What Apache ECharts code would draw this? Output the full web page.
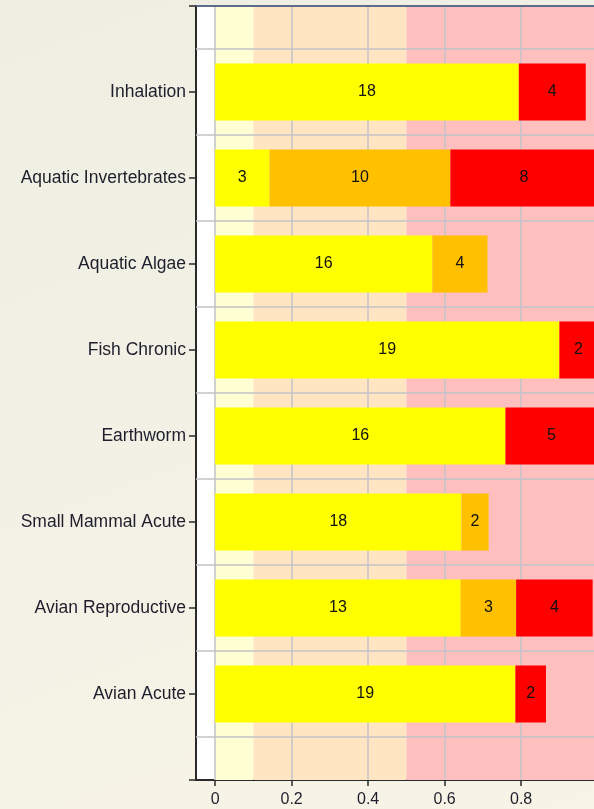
<!DOCTYPE html>
<html>
<head>
<meta charset="utf-8">
<script src="https://cdn.jsdelivr.net/npm/echarts@6/dist/echarts.min.js"></script>
<style>
  html, body { margin: 0; padding: 0; }
  body { width: 594px; height: 809px; background: linear-gradient(160deg, #eeeee2 0%, #f3f1e5 50%, #f7f3e7 100%); }
  #chart { width: 594px; height: 809px; }
</style>
</head>
<body>
<div id="chart"></div>
<script>
// Categories, bottom to top (padded with empty slots at both ends)
const categories = ['', 'Avian Acute', 'Avian Reproductive', 'Small Mammal Acute', 'Earthworm',
  'Fish Chronic', 'Aquatic Algae', 'Aquatic Invertebrates', 'Inhalation', ''];

// Bar segment lengths (fraction of axis), per category
const yellowShare = [null, 0.785, 0.642, 0.644, 0.759, 0.900, 0.568, 0.142, 0.794, null];
const orangeShare = [null, null, 0.145, 0.071, null, null, 0.144, 0.473, null, null];
const redShare    = [null, 0.080, 0.200, null, 0.241, 0.100, null, 0.385, 0.175, null];

// Counts written on the segments
const yellowCount = [null, 19, 13, 18, 16, 19, 16, 3, 18, null];
const orangeCount = [null, null, 3, 2, null, null, 4, 10, null, null];
const redCount    = [null, 2, 4, null, 5, 2, null, 8, 4, null];

// Axis ticks
const xTicks = [0, 0.2, 0.4, 0.6, 0.8, 1];
const rowBoundaries = [-0.5, 0.5, 1.5, 2.5, 3.5, 4.5, 5.5, 6.5, 7.5];

// Background zones
const zones = [
  { from: 0, to: 0.1, color: '#ffffd3' },
  { from: 0.1, to: 0.5, color: '#ffe5c1' },
  { from: 0.5, to: 1.05, color: '#ffbfbf' }
];

const FONT = "'Liberation Sans', Arial, sans-serif";
const TEXT = '#1e1e2c';

const chart = echarts.init(document.getElementById('chart'), null, { renderer: 'canvas' });

function barSeries(name, values, counts, color) {
  return {
    name: name,
    type: 'bar',
    stack: 'total',
    xAxisIndex: 0,
    yAxisIndex: 0,
    barWidth: 57,
    z: 5,
    itemStyle: { color: color },
    label: {
      show: true,
      position: 'inside',
      color: '#111',
      fontFamily: FONT,
      fontSize: 16,
      formatter: p => (counts[p.dataIndex] == null ? '' : String(counts[p.dataIndex]))
    },
    data: values
  };
}

const option = {
  backgroundColor: 'transparent',
  animation: false,
  grid: {
    left: 196, top: 6, width: 420.75, height: 774,
    containLabel: false, outerBoundsMode: 'none',
    show: true, backgroundColor: '#ffffff', borderWidth: 0
  },
  xAxis: [{
    type: 'value', min: -0.05, max: 1.05,
    axisLine: { show: true, onZero: false, lineStyle: { color: '#2a2a2a', width: 2 } },
    axisTick: { show: true, length: 6, customValues: xTicks, lineStyle: { color: '#2a2a2a', width: 1.5 } },
    axisLabel: { customValues: xTicks, margin: 12, color: TEXT, fontFamily: FONT, fontSize: 16,
      showMaxLabel: true, hideOverlap: false,
      formatter: v => String(Math.round(v * 10) / 10) },
    splitLine: { show: false }
  }],
  yAxis: [{
    type: 'category', data: categories, boundaryGap: false,
    axisLine: { show: true, onZero: false, lineStyle: { color: '#2a2a2a', width: 2 } },
    axisTick: { show: true, length: 7, lineStyle: { color: '#2a2a2a', width: 1.5 } },
    axisLabel: { margin: 10, color: TEXT, fontFamily: FONT, fontSize: 17.5, interval: 0 },
    splitLine: { show: false }
  }, {
    type: 'value', min: -1, max: 8, show: false,
    axisLine: { onZero: false }
  }],
  series: [
    {
      type: 'scatter',
      xAxisIndex: 0, yAxisIndex: 1,
      z: 1, silent: true,
      symbolSize: 0,
      data: [],
      markArea: {
        silent: true,
        itemStyle: { opacity: 1 },
        data: zones.map(z => [{ xAxis: z.from, itemStyle: { color: z.color } }, { xAxis: z.to }])
      },
      markLine: {
        silent: true,
        symbol: 'none',
        label: { show: false },
        lineStyle: { color: '#c3c3c8', width: 1.5, type: 'solid' },
        data: rowBoundaries.map(v => ({ yAxis: v }))
          .concat(xTicks.map(v => ({ xAxis: v })))
          .concat([{ yAxis: 8, lineStyle: { color: '#5d6c8a', width: 2 } }])
      }
    },
    barSeries('Low', yellowShare, yellowCount, '#ffff00'),
    barSeries('Medium', orangeShare, orangeCount, '#ffc000'),
    barSeries('High', redShare, redCount, '#ff0000')
  ]
};

chart.setOption(option);
</script>
</body>
</html>
